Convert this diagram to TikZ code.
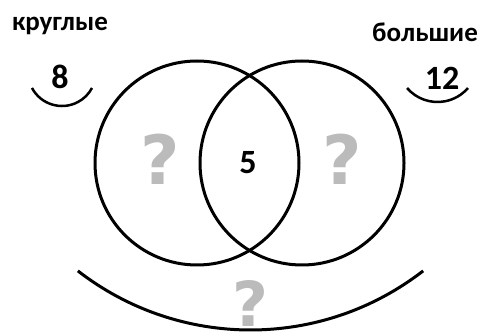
\documentclass[tikz,border=0pt]{standalone}
\usepackage{fontspec}
\usetikzlibrary{calc}
\setmainfont{Carlito}
\newfontfamily\qfont{DejaVu Sans}
\definecolor{qgray}{RGB}{187,187,187}
\tikzset{
  ring/.style={draw=black, line width=3pt},
  smallarc/.style={draw=black, line width=2.5pt},
  lbl/.style={anchor=base, inner sep=0pt, font=\bfseries\fontsize{27}{30}\selectfont},
  num/.style={anchor=base, inner sep=0pt, font=\bfseries\fontsize{34}{36}\selectfont},
  qmark/.style={anchor=base, inner sep=0pt, text=qgray, font=\qfont\bfseries\fontsize{68}{70}\selectfont},
}
\begin{document}
\begin{tikzpicture}[x=1pt,y=1pt]
\useasboundingbox (0,0) rectangle (481,334);
% circles
\draw[ring] (197,171) circle (102);
\draw[ring] (302,171) circle (102);
% bottom arc
\coordinate (bigc) at (250.5,285.7);
\draw[ring] ($(bigc)+(232.2:281.7)$) arc (232.2:307.8:281.7);
% small arcs
\draw[smallarc] ($(62,262)+(208:34)$) arc (208:332:34);
\draw[smallarc] ($(437.5,272.2)+(220.7:40.2)$) arc (220.7:319.3:40.2);
% labels
\node[lbl] (kr) at (60,303.3) {круглые};
\node[lbl] (bo) at (425,292.3) {большие};
\node[num] (n8) at (60,245.7) {8};
\node[num] (n12) at (442,244) {12};
\node[num] (n5) at (248,160.7) {5};
\node[qmark] (q1) at (160,149) {?};
\node[qmark] (q2) at (342,149) {?};
\node[qmark, font=\qfont\bfseries\fontsize{62}{64}\selectfont] (q3) at (250,7.5) {?};
\end{tikzpicture}
\end{document}
